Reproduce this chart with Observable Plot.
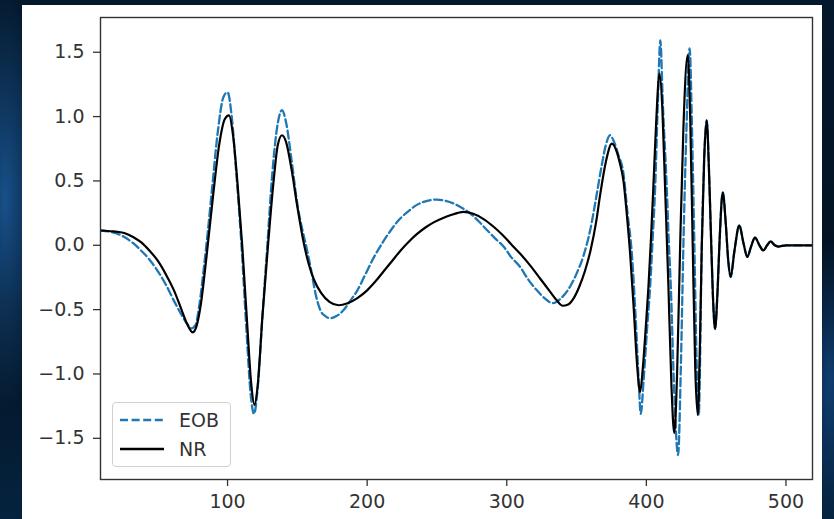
<!DOCTYPE html>
<html>
<head>
<meta charset="utf-8">
<script src="https://cdn.jsdelivr.net/npm/d3@7"></script>
<script src="https://cdn.jsdelivr.net/npm/@observablehq/plot@0.6"></script>
<style>
  html, body { margin: 0; padding: 0; }
  body {
    width: 834px; height: 519px; overflow: hidden; position: relative;
    background:
      radial-gradient(ellipse 60px 300px at 5px 200px, rgba(40,130,220,0.55), rgba(0,0,0,0) 70%),
      radial-gradient(ellipse 40px 200px at 830px 380px, rgba(30,110,200,0.45), rgba(0,0,0,0) 70%),
      linear-gradient(180deg, #04182c 0%, #031222 60%, #05233f 100%);
  }
  #panel { position: absolute; left: 22px; top: 5px; width: 800px; height: 514px; background: #fff; }
  #chart { position: absolute; left: 0; top: 0; }
  #legend {
    position: absolute; left: 112px; top: 402px; width: 119px; height: 65px;
    background: rgba(255,255,255,0.85); border: 1px solid #d0d0d0; border-radius: 4px;
    font-family: "DejaVu Sans", sans-serif; font-size: 19px; color: #333; box-sizing: border-box;
  }
  .row { position: absolute; left: 0; height: 24px; display: flex; align-items: center; }
  .row svg { margin-left: 7px; }
  .row span { margin-left: 15px; }
</style>
</head>
<body>
<div id="panel"></div>
<div id="chart"></div>
<div id="legend"></div>
<script>
// ---- data ----
const seriesNames = ["EOB", "NR"];
const xTicks = [100, 200, 300, 400, 500];
const yTicks = [-1.5, -1.0, -0.5, 0.0, 0.5, 1.0, 1.5];

const nrX = [9, 18, 26, 33, 38, 44, 50, 56, 62, 67, 71, 75, 78, 81, 84, 87, 90, 94, 98, 101,
  104, 107, 110.5, 114, 117, 119.3, 121.5, 125, 129, 133, 136, 139, 142, 146, 150, 154, 158, 162,
  167, 173, 179.5, 186, 193, 200, 206, 212, 218, 224, 230, 236, 242, 248, 254, 260, 265, 269, 276,
  284, 291, 297, 303, 310, 317, 324, 331, 336, 340, 344, 348, 352, 356, 360, 364, 367, 371, 375.3,
  379, 381, 383.6, 386, 388.4, 391, 393.5, 395.5, 397.5, 399.5, 401.5, 403.3, 405, 407, 409.4,
  411.5, 413.4, 415.8, 418, 420, 422, 424.2, 426.5, 429.6, 431.5, 433.2, 435, 436.8, 438.3, 439.7,
  441.5, 443.2, 444.8, 446.1, 447.7, 449.2, 451, 452.5, 454.7, 457, 458.5, 460.4, 463, 466.6,
  469.5, 472.3, 475, 477.8, 481, 483.8, 486.5, 489, 492, 494.5, 500, 510, 519];
const nrY = [0.115, 0.108, 0.095, 0.06, 0.025, -0.04, -0.12, -0.23, -0.36, -0.5, -0.61, -0.676,
  -0.62, -0.45, -0.18, 0.12, 0.42, 0.78, 0.98, 1.01, 0.85, 0.5, 0.0, -0.6, -1.08, -1.24, -1.1,
  -0.55, 0.0, 0.5, 0.78, 0.855, 0.8, 0.58, 0.3, 0.05, -0.14, -0.27, -0.37, -0.44, -0.466, -0.45,
  -0.41, -0.35, -0.28, -0.2, -0.12, -0.04, 0.03, 0.09, 0.14, 0.18, 0.21, 0.235, 0.252, 0.259, 0.245,
  0.2, 0.14, 0.08, 0.01, -0.07, -0.16, -0.26, -0.36, -0.43, -0.47, -0.46, -0.41, -0.32, -0.2, -0.04,
  0.18, 0.4, 0.65, 0.79, 0.72, 0.64, 0.5, 0.24, -0.07, -0.5, -0.95, -1.14, -0.95, -0.65, -0.32,
  0.05, 0.45, 0.95, 1.334, 1.05, 0.45, -0.32, -1.1, -1.46, -1.0, 0.0, 0.9, 1.477, 0.95, 0.0, -0.95,
  -1.32, -0.8, 0.0, 0.7, 0.97, 0.6, 0.14, -0.4, -0.65, -0.35, 0.05, 0.41, 0.15, -0.1, -0.246, -0.05,
  0.155, 0.02, -0.09, -0.01, 0.06, 0.0, -0.04, 0.0, 0.03, 0.0, -0.01, 0.0, 0.0, 0.0];

const eobX = [9, 18, 26, 32, 38, 44, 50, 56, 62, 67, 71, 74, 77, 80, 83, 86, 89, 93, 97, 100,
  103, 106, 110, 113.5, 116.5, 119, 121.5, 125, 128.5, 132, 136, 139, 142, 146, 150, 153, 157, 160,
  163, 166.5, 170, 173.7, 178, 183, 188, 193, 199, 205, 211, 217, 223, 229, 235, 240.5, 250, 256,
  262, 268, 274, 280, 286, 292, 298, 303, 309.7, 315, 321.6, 327, 333, 339, 345.4, 350, 355, 360,
  364.5, 368, 371, 374, 377, 380, 383.6, 386.5, 389.6, 392.5, 394.5, 396, 398, 400.5, 402.7, 404.5,
  406.3, 408.2, 410, 411.8, 414.6, 416, 417.5, 420, 422.7, 424.8, 426.5, 428.7, 431, 432.8, 434.4,
  436, 437.5, 439.7, 441.5, 443.2, 444.8, 446.1, 447.7, 449.2, 451, 452.5, 454.7, 457, 458.5, 460.4,
  463, 466.6, 469.5, 472.3, 475, 477.8, 481, 483.8, 486.5, 489, 492, 494.5, 500, 510, 519];
const eobY = [0.115, 0.1, 0.065, 0.02, -0.04, -0.11, -0.2, -0.31, -0.44, -0.54, -0.61, -0.645,
  -0.62, -0.45, -0.18, 0.12, 0.45, 0.88, 1.15, 1.19, 1.0, 0.6, 0.0, -0.65, -1.15, -1.31, -1.12,
  -0.55, 0.0, 0.55, 0.95, 1.05, 0.95, 0.65, 0.32, 0.15, -0.04, -0.2, -0.375, -0.505, -0.55, -0.567,
  -0.55, -0.505, -0.43, -0.35, -0.22, -0.09, 0.02, 0.117, 0.2, 0.26, 0.31, 0.337, 0.355, 0.345,
  0.324, 0.29, 0.246, 0.185, 0.117, 0.05, -0.013, -0.09, -0.17, -0.26, -0.35, -0.41, -0.45, -0.41,
  -0.32, -0.22, -0.08, 0.13, 0.4, 0.62, 0.78, 0.855, 0.8, 0.7, 0.557, 0.25, -0.065, -0.6, -1.05,
  -1.31, -1.05, -0.65, -0.32, 0.05, 0.45, 1.1, 1.593, 1.1, 0.45, 0.05, -0.32, -1.15, -1.63, -0.9,
  -0.01, 0.9, 1.53, 0.85, -0.01, -0.9, -1.32, 0.0, 0.7, 0.97, 0.6, 0.14, -0.4, -0.65, -0.35, 0.05,
  0.41, 0.15, -0.1, -0.246, -0.05, 0.155, 0.02, -0.09, -0.01, 0.06, 0.0, -0.04, 0.0, 0.03, 0.0,
  -0.01, 0.0, 0.0, 0.0];

const colors = {EOB: "#1f77b4", NR: "#000000"};

const eob = eobX.map((x, i) => ({x, y: eobY[i]}));
const nr = nrX.map((x, i) => ({x, y: nrY[i]}));

const chart = Plot.plot({
  width: 834,
  height: 519,
  marginLeft: 100,
  marginRight: 22,
  marginTop: 17,
  marginBottom: 40,
  style: {background: "transparent", fontFamily: "DejaVu Sans, sans-serif", fontSize: "19px", color: "#333"},
  x: {domain: [9, 519], label: null},
  y: {domain: [-1.82, 1.77], label: null},
  marks: [
    Plot.line(eob, {x: "x", y: "y", curve: "monotone-x", stroke: colors.EOB, strokeWidth: 2.3, strokeDasharray: "8,3.6", clip: true}),
    Plot.line(nr, {x: "x", y: "y", curve: "monotone-x", stroke: colors.NR, strokeWidth: 2.2, clip: true}),
    Plot.frame({stroke: "#333", strokeWidth: 1.4}),
    Plot.axisX({ticks: xTicks, tickSize: 7, tickPadding: 8, tickFormat: d => String(d), stroke: "#333", strokeWidth: 1.3}),
    Plot.axisY({ticks: yTicks, tickSize: 7, tickPadding: 9, tickFormat: d3.format(".1f"), stroke: "#333", strokeWidth: 1.3})
  ]
});
document.getElementById("chart").appendChild(chart);

// legend
const legend = document.getElementById("legend");
seriesNames.forEach((name, i) => {
  const row = document.createElement("div");
  row.className = "row";
  row.style.top = (5 + i * 29) + "px";
  const dash = name === "EOB" ? 'stroke-dasharray="8,3.6"' : "";
  row.innerHTML = `<svg width="44" height="6"><line x1="0" y1="3" x2="44" y2="3" stroke="${colors[name]}" stroke-width="2.4" ${dash}/></svg><span>${name}</span>`;
  legend.appendChild(row);
});
</script>
</body>
</html>
